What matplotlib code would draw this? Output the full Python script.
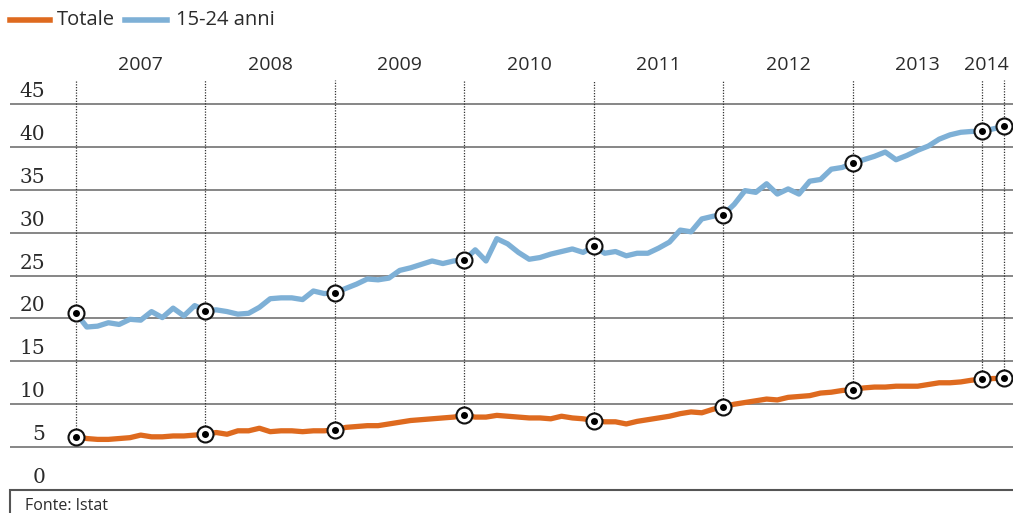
import matplotlib.pyplot as plt
from matplotlib.lines import Line2D
from matplotlib.patches import Rectangle

# monthly data, Jan 2007 .. Mar 2014
totale = [6.2, 6.0, 5.9, 5.9, 6.0, 6.1, 6.4, 6.2, 6.2, 6.3, 6.3, 6.4,
          6.5, 6.7, 6.5, 6.9, 6.9, 7.2, 6.8, 6.9, 6.9, 6.8, 6.9, 6.9,
          7.0, 7.3, 7.4, 7.5, 7.5, 7.7, 7.9, 8.1, 8.2, 8.3, 8.4, 8.5,
          8.7, 8.5, 8.5, 8.7, 8.6, 8.5, 8.4, 8.4, 8.3, 8.6, 8.4, 8.3,
          8.1, 7.95, 7.95, 7.7, 8.0, 8.2, 8.4, 8.6, 8.9, 9.1, 9.0, 9.4,
          9.7, 10.0, 10.2, 10.4, 10.6, 10.5, 10.8, 10.9, 11.0, 11.3, 11.4, 11.6,
          11.7, 11.9, 12.0, 12.0, 12.1, 12.1, 12.1, 12.3, 12.5, 12.5, 12.6, 12.8,
          12.9, 13.0, 13.0]
giovani = [20.6, 19.0, 19.1, 19.5, 19.3, 19.9, 19.8, 20.8, 20.1, 21.2, 20.3, 21.5,
           20.9, 21.0, 20.8, 20.5, 20.6, 21.3, 22.3, 22.4, 22.4, 22.2, 23.2, 22.9,
           23.0, 23.5, 24.0, 24.6, 24.5, 24.7, 25.6, 25.9, 26.3, 26.7, 26.4, 26.7,
           26.8, 28.0, 26.7, 29.3, 28.7, 27.7, 26.9, 27.1, 27.5, 27.8, 28.1, 27.7,
           28.4, 27.6, 27.8, 27.3, 27.6, 27.6, 28.2, 28.9, 30.3, 30.1, 31.6, 31.9,
           32.1, 33.3, 34.9, 34.7, 35.7, 34.5, 35.1, 34.5, 36.0, 36.2, 37.4, 37.6,
           38.1, 38.5, 38.9, 39.4, 38.5, 39.0, 39.6, 40.1, 40.9, 41.4, 41.7, 41.8,
           41.8, 42.1, 42.4]
months = list(range(len(totale)))
marked = [0, 12, 24, 36, 48, 60, 72, 84, 86]
years = ['2007', '2008', '2009', '2010', '2011', '2012', '2013', '2014']
year_pos = [6, 18, 30, 42, 54, 66, 78, 84.4]
yticks = [0, 5, 10, 15, 20, 25, 30, 35, 40, 45]

ORANGE = '#de6a1f'
BLUE = '#7eb0d6'
TXT = '#2b2b2b'

fig = plt.figure(figsize=(10.13, 5.13), dpi=100)
ax = fig.add_axes([0, 23 / 513, 1, 410 / 513])
ax.set_xlim(-76 / 10.79, 937 / 10.79)
ax.set_ylim(0, 410 / 8.578)
ax.axis('off')

# gridlines + serif labels
ax.hlines(yticks[1:], -66 / 10.79, 937 / 10.79, color='#666666', lw=1.1, zorder=1)
for v in yticks:
    ax.text(-31 / 10.79, v + 0.35, str(v), ha='right', va='bottom',
            family='DejaVu Serif', fontsize=14.5, color=TXT)

# dotted year markers
for m in marked:
    ax.vlines(m, totale[m], 410 / 8.578, color='#333333', lw=0.9,
              linestyles=(0, (1, 1.2)), zorder=2)

ax.plot(months, totale, color=ORANGE, lw=3.8, solid_joinstyle='round', zorder=3)
ax.plot(months, giovani, color=BLUE, lw=3.8, solid_joinstyle='round', zorder=3)

for series in (totale, giovani):
    ys = [series[m] for m in marked]
    ax.plot(marked, ys, 'o', ms=11.5, mfc='white', mec='#111111', mew=1.5, zorder=4)
    ax.plot(marked, ys, 'o', ms=4, color='black', zorder=5)

for lab, p in zip(years, year_pos):
    fig.text((76 + 10.79 * p) / 1013, 1 - 65 / 513, lab, ha='center', va='center',
             family='Open Sans', fontsize=14, color=TXT)

# legend
fig.add_artist(Line2D([10 / 1013, 50 / 1013], [1 - 20 / 513] * 2, color=ORANGE, lw=4))
fig.text(57 / 1013, 1 - 20 / 513, 'Totale', va='center', family='Open Sans',
         fontsize=14.5, color=TXT)
fig.add_artist(Line2D([125 / 1013, 167 / 1013], [1 - 20 / 513] * 2, color=BLUE, lw=4))
fig.text(176 / 1013, 1 - 20 / 513, '15-24 anni', va='center', family='Open Sans',
         fontsize=14.5, color=TXT)

# source box
fig.add_artist(Rectangle((10 / 1013, -0.1), 1, 23 / 513 + 0.1, transform=fig.transFigure,
                         fill=False, edgecolor='#555555', lw=1.5))
fig.text(25 / 1013, 1 - 506 / 513, 'Fonte: Istat', va='center', family='Open Sans',
         fontsize=11.5, color=TXT)

fig.savefig('out.png', dpi=100, facecolor='white')
